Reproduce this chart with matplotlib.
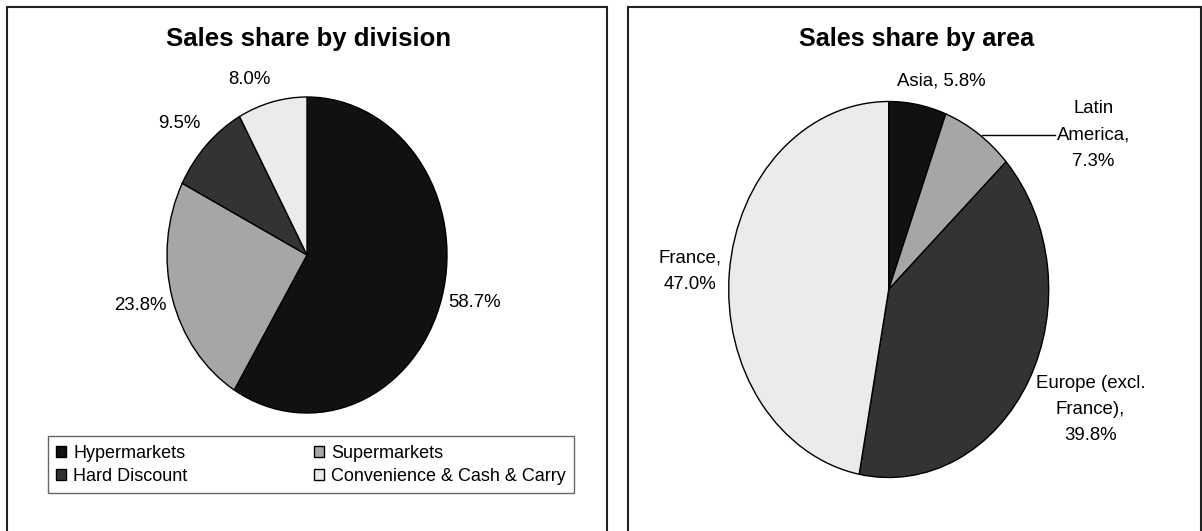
import matplotlib.pyplot as plt
from matplotlib.patches import Rectangle

# data
div_names = ['Hypermarkets', 'Supermarkets', 'Hard Discount', 'Convenience & Cash & Carry']
div_share = [58.7, 23.8, 9.5, 8.0]
area_names = ['Asia', 'Latin\nAmerica', 'Europe (excl.\nFrance)', 'France']
area_share = [5.8, 7.3, 39.8, 47.0]

greys = ['#111111', '#a6a6a6', '#333333', '#ebebeb']

W, H = 1202, 531
plt.rcParams['font.family'] = ['Liberation Sans', 'DejaVu Sans']

fig = plt.figure(figsize=(W / 100, H / 100), dpi=100)


def px_axes(cx, cy, rx, ry):
    # axes box around the ellipse, in image pixels (y from top)
    return fig.add_axes([(cx - rx) / W, 1 - (cy + ry) / H, 2 * rx / W, 2 * ry / H])


def frame(x0, x1):
    fig.patches.append(Rectangle((x0 / W, -0.05), (x1 - x0) / W, 1 - 7 / H + 0.05,
                                 transform=fig.transFigure, fill=False,
                                 edgecolor='#222222', linewidth=1.5))


frame(7, 607)
frame(628, 1200.5)

fig.text(309 / W, 1 - 39 / H, 'Sales share by division', ha='center', va='center',
         fontsize=18.5, fontweight='bold')
fig.text(917 / W, 1 - 39 / H, 'Sales share by area', ha='center', va='center',
         fontsize=18.2, fontweight='bold')

# left pie
ax1 = px_axes(307, 255, 140, 158)
w1, _ = ax1.pie(div_share, colors=greys, startangle=90, counterclock=False,
                wedgeprops=dict(edgecolor='black', linewidth=1))
ax1.set_aspect('auto')
ax1.set_xlim(-1, 1)
ax1.set_ylim(-1, 1)
lab1 = [(1.2, -0.30), (-1.19, -0.32), (-0.91, 0.83), (-0.41, 1.11)]
for v, (x, y) in zip(div_share, lab1):
    ax1.text(x, y, f'{v:.1f}%', ha='center', va='center', fontsize=13.4)

# legend filled row by row like the original
order = [0, 2, 1, 3]
leg = fig.legend([w1[i] for i in order], [div_names[i] for i in order],
                 loc='lower left', ncol=2, bbox_to_anchor=(48 / W, 1 - 493 / H),
                 borderaxespad=0, fontsize=13, handlelength=0.55, handleheight=0.55,
                 handletextpad=0.38, labelspacing=0.33, borderpad=0.47,
                 columnspacing=7.0, fancybox=False, framealpha=1, edgecolor='#666666')
leg.get_frame().set_linewidth(1)

# right pie
ax2 = px_axes(888.7, 289.5, 160, 188)
ax2.pie(area_share, colors=greys, startangle=90, counterclock=False,
        wedgeprops=dict(edgecolor='black', linewidth=1))
ax2.set_aspect('auto')
ax2.set_xlim(-1, 1)
ax2.set_ylim(-1, 1)
lab2 = [(0.33, 1.107), (1.279, 0.822), (1.262, -0.64), (-1.241, 0.098)]
seps = [' ', '\n', '\n', '\n']
for n, v, s, (x, y) in zip(area_names, area_share, seps, lab2):
    ax2.text(x, y, f'{n},{s}{v:.1f}%', ha='center', va='center', fontsize=13.4,
             linespacing=1.7)
# leader line for Latin America
ax2.plot([0.583, 1.039], [0.822, 0.822], color='black', linewidth=1, clip_on=False)

fig.savefig('out.png', dpi=100)
